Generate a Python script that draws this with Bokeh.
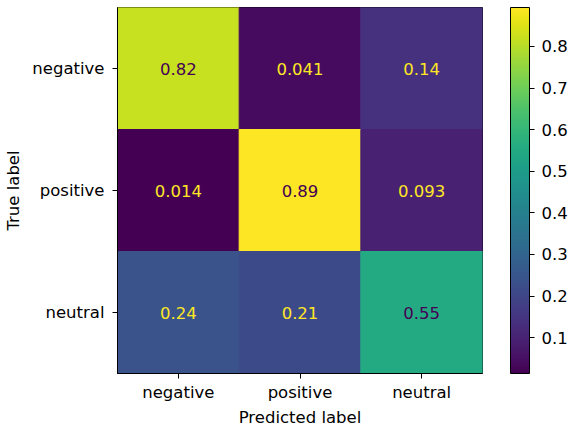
from bokeh.plotting import figure
from bokeh.models import ColumnDataSource, ColorBar, LinearColorMapper, FixedTicker
from bokeh.palettes import Viridis256
from bokeh.transform import transform
from bokeh.core.properties import value
from bokeh.embed import file_html
from bokeh.resources import INLINE

# ---- data ----
pred_labels = ["negative", "positive", "neutral"]
true_labels = ["negative", "positive", "neutral"]
row_negative = [0.82, 0.041, 0.14]
row_positive = [0.0138, 0.8935, 0.093]
row_neutral = [0.24, 0.21, 0.55]
cbar_ticks = [0.1, 0.2, 0.3, 0.4, 0.5, 0.6, 0.7, 0.8]

rows = [row_negative, row_positive, row_neutral]
xs, ys, vals = [], [], []
for t, row in zip(true_labels, rows):
    for pl, v in zip(pred_labels, row):
        xs.append(pl)
        ys.append(t)
        vals.append(v)

vmin, vmax = min(vals), max(vals)
thresh = (vmin + vmax) / 2
txt = [f"{v:.2g}" for v in vals]
tcol = ["#440154" if v > thresh else "#fde725" for v in vals]

src = ColumnDataSource(dict(x=xs, y=ys, v=vals, txt=txt, tcol=tcol))
mapper = LinearColorMapper(palette=Viridis256, low=vmin, high=vmax)

FONT = "DejaVu Sans"
FS = "16.5px"
FH = 366

p = figure(x_range=pred_labels, y_range=true_labels[::-1],
           frame_width=365, frame_height=FH,
           min_border_left=117, min_border_top=7, min_border_bottom=0, min_border_right=0,
           output_backend="svg", toolbar_location=None)

p.rect(x="x", y="y", width=1, height=1, source=src,
       fill_color=transform("v", mapper), line_color=transform("v", mapper), line_width=1)
p.text(x="x", y="y", text="txt", source=src, text_color="tcol",
       text_align="center", text_baseline="middle",
       text_font=value(FONT), text_font_size=value(FS))

p.grid.visible = False
p.outline_line_color = "black"
p.outline_line_width = 1
p.background_fill_color = None
p.border_fill_color = "white"

for ax in (p.xaxis, p.yaxis):
    ax.major_tick_out = 5
    ax.major_tick_in = 0
    ax.minor_tick_line_color = None
    ax.axis_line_color = "black"
    ax.major_tick_line_color = "black"
    ax.major_label_text_font = FONT
    ax.major_label_text_font_size = FS
    ax.major_label_text_color = "black"
    ax.axis_label_text_font = FONT
    ax.axis_label_text_font_size = FS
    ax.axis_label_text_font_style = "normal"
    ax.axis_label_text_color = "black"

p.xaxis.axis_label = "Predicted label"
p.yaxis.axis_label = "True label"
p.xaxis.major_label_standoff = 4
p.xaxis.axis_label_standoff = 3
p.yaxis.major_label_standoff = 8
p.yaxis.axis_label_standoff = 6

cb = ColorBar(color_mapper=mapper, ticker=FixedTicker(ticks=cbar_ticks),
              width=19, height=FH, padding=0, margin=0,
              location=(28, 0),
              major_tick_in=0, major_tick_out=5, major_tick_line_color="black",
              minor_tick_line_color=None,
              bar_line_color="black", bar_line_width=1,
              border_line_color=None, background_fill_color=None,
              label_standoff=7,
              major_label_text_font=FONT, major_label_text_font_size=FS,
              major_label_text_color="black")
p.add_layout(cb, "right")

open("out.html", "w").write(file_html(p, INLINE))
